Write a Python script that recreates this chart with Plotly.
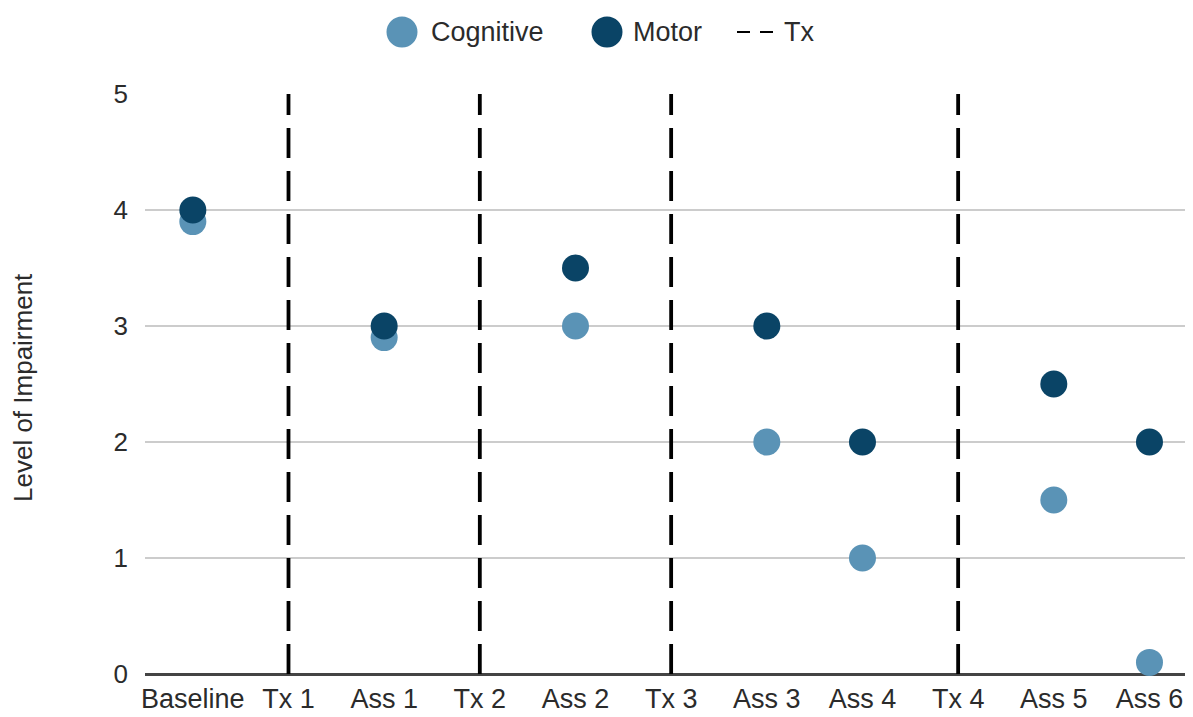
import plotly.graph_objects as go

categories = ["Baseline", "Tx 1", "Ass 1", "Tx 2", "Ass 2", "Tx 3", "Ass 3", "Ass 4", "Tx 4", "Ass 5", "Ass 6"]
assess_cats = ["Baseline", "Ass 1", "Ass 2", "Ass 3", "Ass 4", "Ass 5", "Ass 6"]
cognitive = [3.9, 2.9, 3.0, 2.0, 1.0, 1.5, 0.1]
motor = [4.0, 3.0, 3.5, 3.0, 2.0, 2.5, 2.0]
tx_cats = ["Tx 1", "Tx 2", "Tx 3", "Tx 4"]
tx_span = [0, 5]
y_ticks = [0, 1, 2, 3, 4, 5]

COG = "#5a93b6"
MOT = "#0a4466"
FONT = "Liberation Sans, Arial, sans-serif"
TXT = "#2b2b2b"

fig = go.Figure()

# Tx dashed vertical lines
tx_x, tx_y = [], []
for c in tx_cats:
    tx_x += [c, c, None]
    tx_y += [tx_span[0], tx_span[1], None]
fig.add_trace(go.Scatter(x=tx_x, y=tx_y, mode="lines", name="Tx",
                         line=dict(color="black", width=3.8, dash="30px,13px"),
                         showlegend=False, hoverinfo="skip"))

fig.add_trace(go.Scatter(x=assess_cats, y=cognitive, mode="markers", name="Cognitive",
                         marker=dict(color=COG, size=27), showlegend=False, cliponaxis=False))
fig.add_trace(go.Scatter(x=assess_cats, y=motor, mode="markers", name="Motor",
                         marker=dict(color=MOT, size=27), showlegend=False, cliponaxis=False))

OFF = 8  # page body margin
W, H = 1193 - OFF, 717 - OFF
L = 145 - OFF
T = 94 - OFF
B = 717 - 674
pw = W - L
ph = H - T - B

def px_x(p):
    return (p - OFF - L) / pw

def px_y(p):
    return (H - B - (p - OFF)) / ph

ly = px_y(32)
shapes = []
annotations = []
for cx, col in [(402, COG), (607, MOT)]:
    shapes.append(dict(type="circle", xref="paper", yref="paper", xsizemode="pixel", ysizemode="pixel",
                       xanchor=px_x(cx), yanchor=ly, x0=-15.5, x1=15.5, y0=-15.5, y1=15.5,
                       fillcolor=col, line=dict(width=0)))
shapes.append(dict(type="line", xref="paper", yref="paper", xsizemode="pixel",
                   xanchor=px_x(756), x0=-19, x1=19, y0=ly, y1=ly,
                   line=dict(color="black", width=2, dash="13px,10px")))
for tx, label in [(429, "Cognitive"), (631, "Motor"), (782, "Tx")]:
    annotations.append(dict(text=label, xref="paper", yref="paper", x=px_x(tx), y=ly,
                            xanchor="left", yanchor="middle", showarrow=False,
                            font=dict(family=FONT, size=27, color=TXT)))
annotations.append(dict(text="Level of Impairment", xref="paper", yref="paper",
                        x=px_x(23), y=px_y(388), xanchor="center", yanchor="middle",
                        textangle=-90, showarrow=False,
                        font=dict(family=FONT, size=26, color=TXT)))

fig.update_layout(
    width=W, height=H,
    margin=dict(l=L, r=0, t=T, b=B, pad=0, autoexpand=False),
    paper_bgcolor="white", plot_bgcolor="white",
    showlegend=False,
    shapes=shapes, annotations=annotations,
    font=dict(family=FONT, size=27, color=TXT),
)
fig.update_xaxes(type="category", categoryorder="array", categoryarray=categories,
                 range=[-0.5, 10.455], showgrid=False, zeroline=False, automargin=False,
                 showline=False, ticks="", ticklabelstandoff=6,
                 tickfont=dict(size=27, color=TXT))
fig.update_yaxes(range=[0, 5], tickvals=y_ticks, showgrid=True, gridcolor="#cccccc",
                 gridwidth=1.5, zeroline=True, zerolinecolor="#444444", zerolinewidth=2.5,
                 showline=False, ticks="", ticklabelstandoff=16, automargin=False,
                 tickfont=dict(size=26, color=TXT))

fig.write_html("out.html")
